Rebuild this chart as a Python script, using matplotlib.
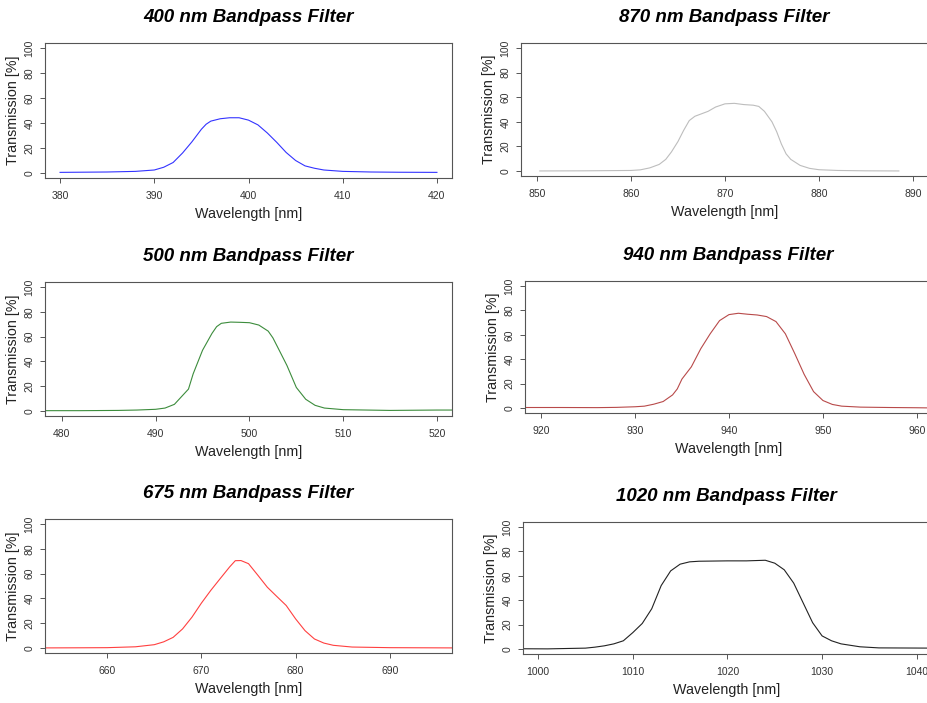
import matplotlib
matplotlib.use("Agg")
import matplotlib.pyplot as plt

plt.rcParams['font.family'] = ['Liberation Sans', 'DejaVu Sans']

wl_400 = [380, 385, 388, 390, 391, 392, 393, 394, 395, 395.5, 396, 397, 398, 399, 400,
          401, 402, 403, 404, 405, 406, 407, 408, 410, 413, 416, 420]
tr_400 = [0.5, 0.8, 1.3, 2.4, 4.6, 8.4, 16, 25, 35, 39, 41.5, 43.4, 44.2, 44.2, 42.3,
          38.5, 32, 24.5, 16.4, 10, 5.7, 3.8, 2.4, 1.3, 0.8, 0.6, 0.5]

wl_870 = [850.3, 855, 860, 861, 862, 863, 863.7, 864.3, 865, 865.6, 866.2, 866.8,
          867.5, 868.2, 869, 870, 871, 872, 873, 873.6, 874.2, 875, 875.5, 876,
          876.5, 877, 878, 879, 880, 882, 885, 888.5]
tr_870 = [0.1, 0.2, 0.5, 1.0, 2.6, 5.4, 9.5, 15.5, 24, 33, 41, 44.5,
          46.5, 48.5, 52, 54.6, 55, 54, 53.5, 52.5, 48.5, 40, 32, 22,
          14, 9.5, 4.6, 2.2, 1.1, 0.5, 0.2, 0.1]

wl_500 = [478, 482, 486, 488, 490, 491, 492, 493, 493.5, 494, 495, 496, 496.5, 497, 498,
          499, 500, 501, 502, 502.5, 503, 504, 505, 506, 507, 508, 510, 515, 520, 522]
tr_500 = [0.3, 0.3, 0.5, 0.8, 1.4, 2.4, 5.4, 13.6, 17.7, 30, 49, 62.5, 68, 70.7, 71.7,
          71.5, 71.2, 69.3, 64.4, 59, 51.6, 36.7, 19, 9.5, 4.6, 2.4, 1.1, 0.5, 0.8, 0.8]

wl_940 = [918, 922, 926, 928, 930, 931, 932, 933, 934, 934.5, 935, 936, 937, 938,
          939, 940, 941, 942, 943, 944, 945, 946, 947, 948, 949, 950, 951, 952,
          954, 957, 960, 962]
tr_940 = [0.5, 0.5, 0.4, 0.6, 1.1, 1.6, 3.2, 5.4, 10.8, 15.7, 23.8, 33.8, 48.6, 60.8,
          71.6, 76.5, 77.6, 76.8, 76.2, 74.9, 70.8, 60.8, 44.6, 27.6, 13.5, 6.2, 3, 1.6,
          0.8, 0.5, 0.3, 0.1]

wl_675 = [653, 657, 660, 663, 665, 666, 667, 668, 669, 670, 671, 672, 673, 673.6,
          674.2, 675, 676, 677, 678, 679, 680, 681, 682, 683, 684, 686, 690, 697]
tr_675 = [0.1, 0.2, 0.3, 1.0, 2.7, 5.0, 8.6, 15.4, 24.9, 36.2, 46.5, 56, 65.4, 70.4,
          70.5, 68, 58.6, 49, 41.6, 34.3, 23.5, 14, 7.3, 4, 2.2, 0.8, 0.3, 0.1]

wl_1020 = [998, 1001, 1003, 1005, 1006, 1007, 1008, 1009, 1010, 1011, 1012, 1013,
           1014, 1015, 1016, 1017, 1020, 1022, 1024, 1025, 1026, 1027, 1028, 1029,
           1030, 1031, 1032, 1034, 1036, 1042]
tr_1020 = [0.3, 0.2, 0.5, 0.8, 1.6, 2.7, 4.3, 6.8, 13.5, 21, 33, 52,
           64, 69.5, 71.4, 71.9, 72.2, 72.2, 72.7, 70.3, 64.9, 54, 37.8, 21.6,
           10.8, 6.8, 4.3, 1.9, 1.0, 0.8]

titles = ["400 nm Bandpass Filter", "870 nm Bandpass Filter",
          "500 nm Bandpass Filter", "940 nm Bandpass Filter",
          "675 nm Bandpass Filter", "1020 nm Bandpass Filter"]
xs = [wl_400, wl_870, wl_500, wl_940, wl_675, wl_1020]
ys = [tr_400, tr_870, tr_500, tr_940, tr_675, tr_1020]
colors = ["#3333ff", "#bdbdbd", "#3c8c3c", "#b84a4a", "#ff4040", "#222222"]
xlims = [(378.4, 421.6), (848.3, 891.6), (478.2, 521.6),
         (918.3, 961.6), (653.4, 696.6), (998.4, 1041.4)]
xticks = [range(380, 421, 10), range(850, 891, 10), range(480, 521, 10),
          range(920, 961, 10), range(660, 691, 10), range(1000, 1041, 10)]

# axes boxes in pixels: left, top, right, bottom
boxes = [(45, 43, 452, 178), (521, 43, 928, 176),
         (45, 282, 452, 416), (525, 281, 932, 413),
         (45, 519, 452, 653), (523, 522, 930, 654)]

W, H = 928, 703
fig = plt.figure(figsize=(W / 100, H / 100), dpi=100)

for i in range(6):
    l, t, r, b = boxes[i]
    ax = fig.add_axes([l / W, 1 - b / H, (r - l) / W, (b - t) / H])
    ax.plot(xs[i], ys[i], color=colors[i], lw=0.8)
    ax.set_xlim(*xlims[i])
    ax.set_ylim(-4, 104)
    ax.set_xticks(list(xticks[i]))
    ax.set_yticks([0, 20, 40, 60, 80, 100])
    for s in ax.spines.values():
        s.set_color("#555555")
        s.set_linewidth(0.8)
    ax.tick_params(length=3.6, width=0.7, color="#555555", labelsize=7.5,
                   labelcolor="#333333", pad=5.5)
    ax.tick_params(axis='y', labelrotation=90, pad=4)
    for lab in ax.get_yticklabels():
        lab.set_va("center")
    ax.set_xlabel("Wavelength [nm]", fontsize=10.3, labelpad=4.5, color="#222222")
    ax.set_ylabel("Transmission [%]", fontsize=10.3, labelpad=3.5, color="#222222")
    ax.set_title(titles[i], fontsize=13.5, fontweight="bold", fontstyle="italic",
                 pad=15)

fig.savefig("out.png", dpi=100)
